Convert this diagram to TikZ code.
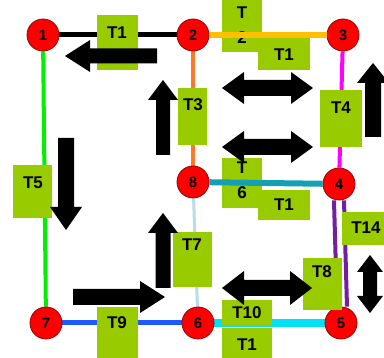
\documentclass[tikz,border=0pt]{standalone}
\usepackage{fontspec}
\setmainfont{Liberation Sans}
\usetikzlibrary{backgrounds}
\definecolor{nodered}{RGB}{255,0,0}
\definecolor{noderim}{RGB}{150,0,0}
\definecolor{boxgreen}{RGB}{153,204,0}
\definecolor{egold}{RGB}{255,192,0}
\definecolor{eorange}{RGB}{255,120,40}
\definecolor{emagenta}{RGB}{255,0,255}
\definecolor{eteal}{RGB}{20,160,180}
\definecolor{epale}{RGB}{185,220,235}
\definecolor{eblue}{RGB}{30,90,255}
\definecolor{ecyan}{RGB}{0,225,245}
\definecolor{epurple}{RGB}{112,32,160}
\definecolor{egreen}{RGB}{0,240,0}
\tikzset{
  station/.style={circle, fill=nodered, draw=noderim, line width=0.8pt,
    minimum size=32pt, inner sep=0pt, font=\fontsize{15}{15}\selectfont\bfseries},
  tag/.style={fill=boxgreen, inner sep=0pt},
  tagtext/.style={inner sep=0pt, font=\fontsize{17}{17}\selectfont\bfseries},
  pics/onearrow/.style n args={4}{code={
    \fill (0,-#2) -- (#1-#4,-#2) -- (#1-#4,-#3) -- (#1,0) -- (#1-#4,#3)
      -- (#1-#4,#2) -- (0,#2) -- cycle;}},
  pics/twoarrow/.style n args={4}{code={
    \fill (0,0) -- (#4,-#3) -- (#4,-#2) -- (#1-#4,-#2) -- (#1-#4,-#3) -- (#1,0)
      -- (#1-#4,#3) -- (#1-#4,#2) -- (#4,#2) -- (#4,#3) -- cycle;}}
}
\begin{document}
\begin{tikzpicture}[x=1pt,y=-1pt]
\useasboundingbox (0,0) rectangle (384,358);

% stations
\node[station] (n1) at (43,35) {1};
\node[station] (n2) at (193,35) {2};
\node[station] (n3) at (343,35) {3};
\node[station] (n8) at (193,182) {8};
\node[station] (n4) at (339,184) {4};
\node[station] (n7) at (46,323) {7};
\node[station] (n6) at (198,323) {6};
\node[station] (n5) at (341,323) {5};

% tracks
\begin{scope}[on background layer]
  \fill[white] (0,0) rectangle (384,358);
  \draw[black, line width=5pt] (n1) -- (n2);
  \draw[egreen, line width=4pt] (n1) -- (n7);
  \draw[eorange, line width=4pt] (n2) -- (n8);
  \draw[emagenta, line width=4pt] (n3) -- (n4);
  \draw[epale, line width=3pt] (n8) -- (n6);
  \draw[eblue, line width=5pt] (n7) -- (n6);
  \draw[ecyan, line width=8pt] (n6) -- (n5);
  \draw[epurple, line width=4pt] ([xshift=-5pt]n4.south) -- ([xshift=-4pt]n5.north);
  \draw[epurple, line width=4pt] ([xshift=5pt]n4.south) -- ([xshift=6pt]n5.north);
\end{scope}

% label plates
\node[tag, minimum width=41pt, minimum height=55pt] (b1a) at (117.5,42.5) {};
\node[tag, minimum width=40pt, minimum height=54pt] (b2) at (242,25) {};
\node[tag, minimum width=52pt, minimum height=32pt] (b1b) at (284,54) {};
\node[tag, minimum width=29pt, minimum height=57pt] (b3) at (192.5,116.5) {};
\node[tag, minimum width=42pt, minimum height=57pt] (b4) at (341,118.5) {};
\node[tag, minimum width=40pt, minimum height=50pt] (b6) at (242,183) {};
\node[tag, minimum width=52pt, minimum height=30pt] (b1c) at (284,205) {};
\node[tag, minimum width=39pt, minimum height=53pt] (b5) at (32.5,191.5) {};
\node[tag, minimum width=39pt, minimum height=55pt] (b7) at (192.5,259.5) {};
\node[tag, minimum width=46pt, minimum height=33pt] (b14) at (365,228.5) {};
\node[tag, minimum width=39pt, minimum height=52pt] (b8) at (322.5,284) {};
\node[tag, minimum width=41pt, minimum height=53pt] (b9) at (117.5,333.5) {};
\node[tag, minimum width=50pt, minimum height=25pt] (b10) at (247,312.5) {};
\node[tag, minimum width=50pt, minimum height=32pt] (b1d) at (247,344) {};

% split labels, crossed by their own tracks
\node[tagtext] (t2a) at (242,13) {T};
\node[tagtext] (t2b) at (242,38) {2};
\node[tagtext] (t6a) at (242,168) {T};
\node[tagtext] (t6b) at (242,193) {6};
\draw[egold, line width=6pt] (n2) -- (n3);
\draw[eteal, line width=6pt] (n8) -- (n4);

% plate texts
\node[tagtext] (t1a) at (117,33) {T1};
\node[tagtext] (t1b) at (284,55) {T1};
\node[tagtext] (t3) at (193,105) {T3};
\node[tagtext] (t4) at (341,108) {T4};
\node[tagtext] (t1c) at (284,205) {T1};
\node[tagtext] (t5) at (33,183) {T5};
\node[tagtext] (t7) at (192,245) {T7};
\node[tagtext] (t14) at (366,228) {T14};
\node[tagtext] (t8) at (322,272) {T8};
\node[tagtext] (t9) at (117,323) {T9};
\node[tagtext] (t10) at (247,313) {T10};
\node[tagtext] (t1d) at (247,345) {T1};

% direction arrows
\pic[rotate=180] at (157,56) {onearrow={92}{7.5}{16}{25}};
\pic[rotate=90] at (163,155) {onearrow={75}{7}{15}{20}};
\pic[rotate=90] at (373,137) {onearrow={74}{8}{16}{20}};
\pic[rotate=-90] at (66,138) {onearrow={92}{8}{16}{23}};
\pic[rotate=90] at (163,288) {onearrow={75}{7.5}{15}{20}};
\pic at (73,297) {onearrow={92}{8}{16}{25}};
\pic at (222,88) {twoarrow={91}{8}{16}{22}};
\pic at (222,147) {twoarrow={91}{8}{16}{22}};
\pic at (222,288) {twoarrow={90}{8}{17}{22}};
\pic[rotate=-90] at (370,255) {twoarrow={58}{7}{13}{17}};
\end{tikzpicture}
\end{document}
